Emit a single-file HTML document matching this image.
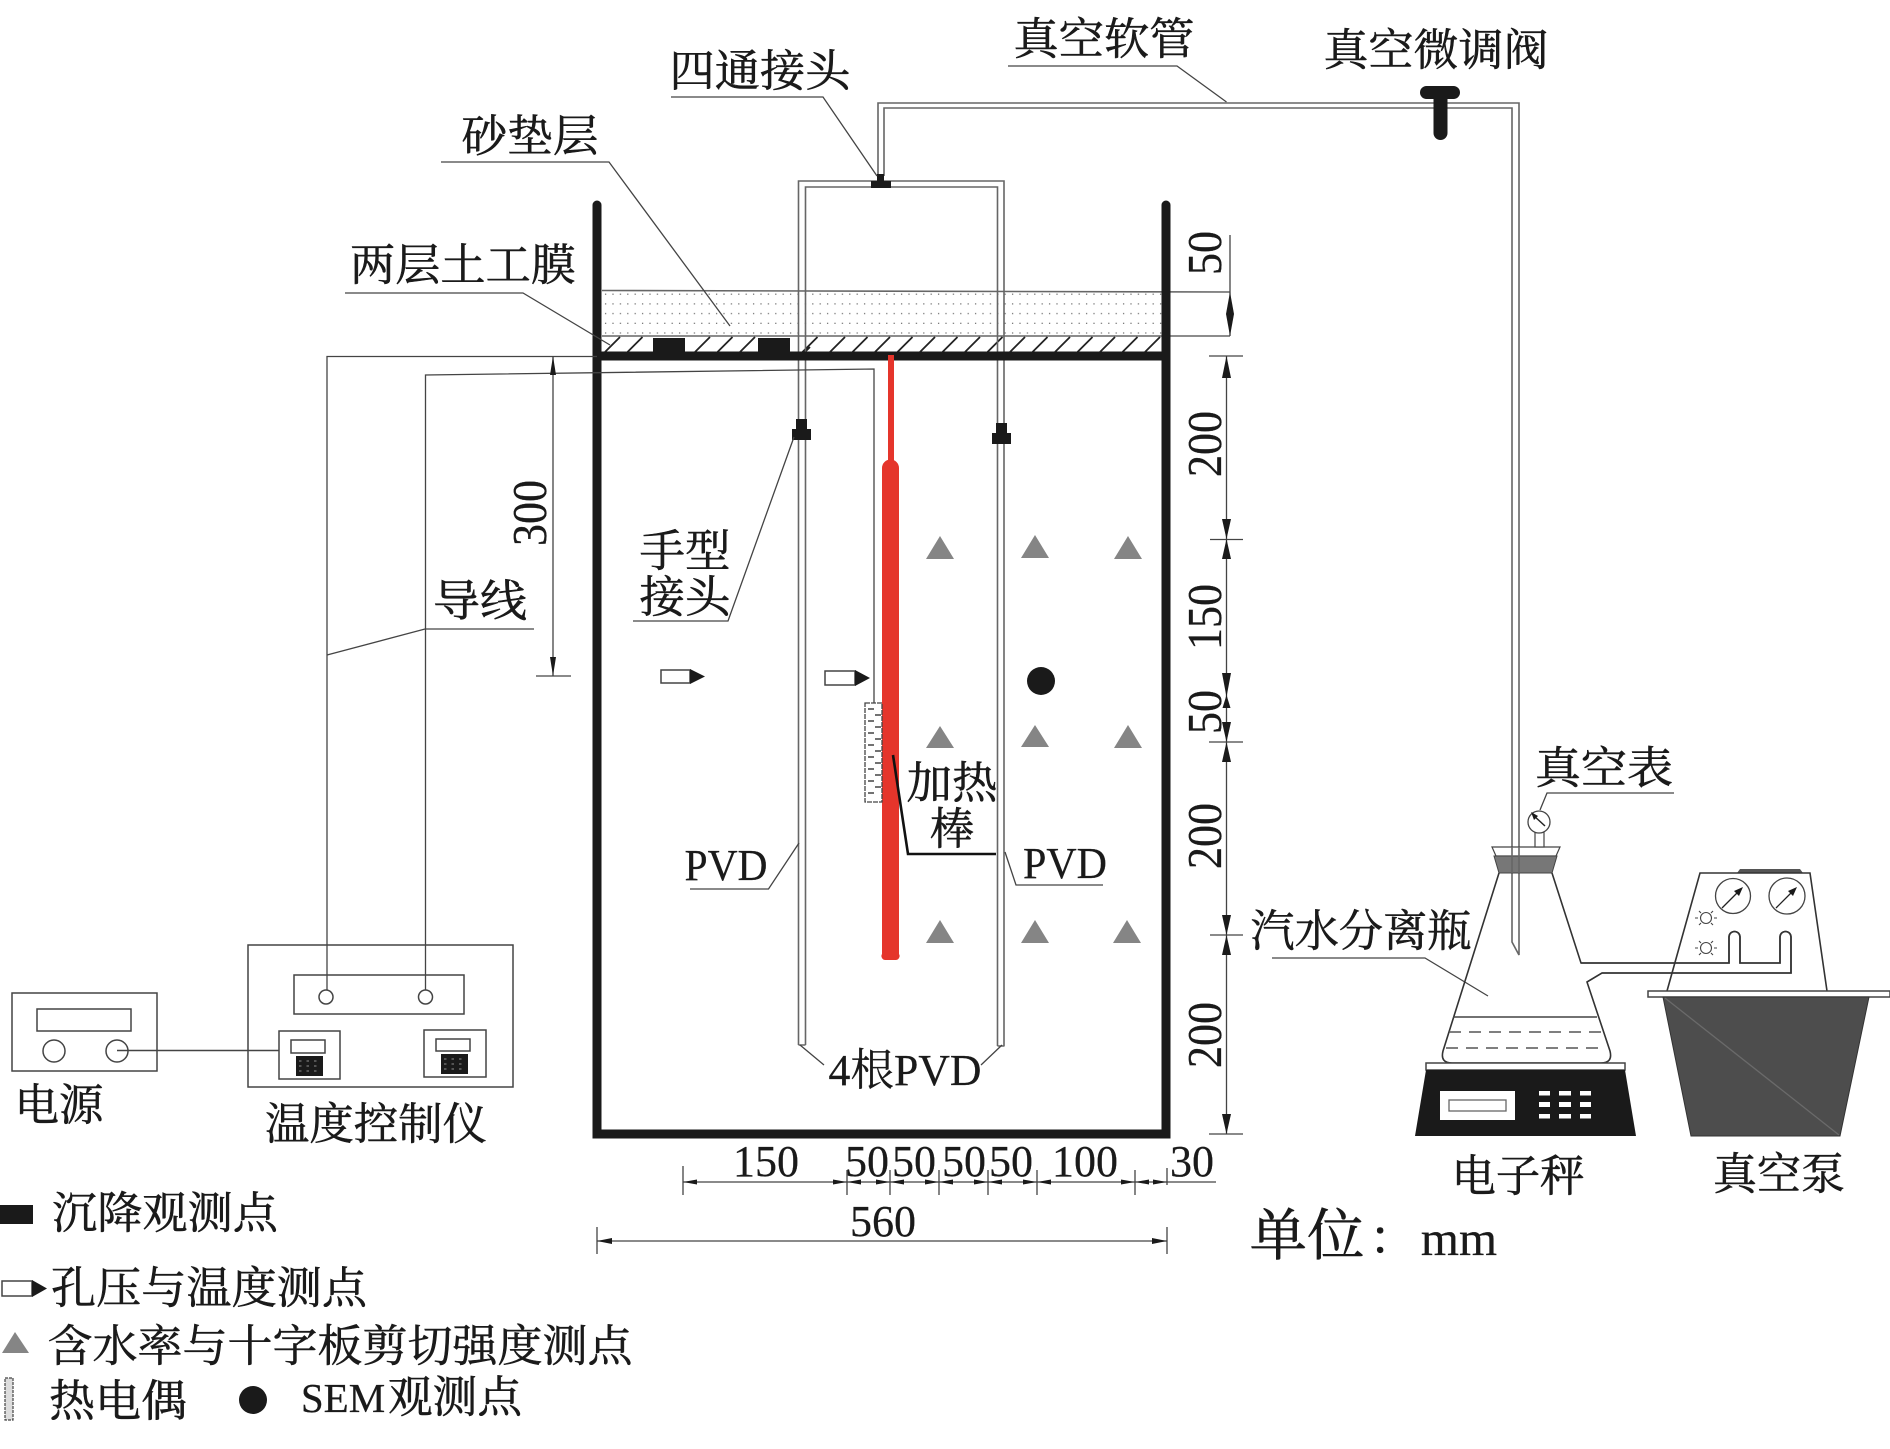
<!DOCTYPE html>
<html lang="zh"><head><meta charset="utf-8"><title>Test setup diagram</title>
<style>
html,body{margin:0;padding:0;background:#fff}
svg{display:block}
text{font-family:"Liberation Serif","Noto Serif CJK SC",serif;fill:#1a1a1a;text-anchor:middle}
.c{font-size:44px;stroke:#1a1a1a;stroke-width:.55px}
.n{font-size:44px;stroke:#1a1a1a;stroke-width:.25px}
.l{fill:none;stroke:#444;stroke-width:1.3}
.k{fill:none;stroke:#333;stroke-width:1.6}
.p{fill:none;stroke:#666;stroke-width:1.6}
.w{fill:#fff;stroke:#444;stroke-width:1.5}
.b{fill:#1a1a1a;stroke:none}
.g{fill:#858585;stroke:none}
</style></head><body>
<svg width="1890" height="1449" viewBox="0 0 1890 1449" xmlns="http://www.w3.org/2000/svg">
<defs>
<pattern id="sand" x="602" y="290" width="7.4" height="9.7" patternUnits="userSpaceOnUse"><rect x="3" y="3.6" width="1.2" height="1.2" fill="#666"/></pattern>
</defs>
<rect width="1890" height="1449" fill="#fff"/>

<!-- sand -->
<rect x="602" y="291" width="560" height="45" fill="url(#sand)"/>
<line x1="602" y1="290.5" x2="1230" y2="292" class="p"/>
<line x1="602" y1="336" x2="1230" y2="336" class="p"/>
<!-- hatch -->
<path fill="none" stroke="#222" stroke-width="1.8" d="M605 352l15-15M627.5 352l15-15M695 352l15-15M717.500 352l15-15M740 352l15-15M802.500 352l15-15M805 352l5-5M830 352l15-15M852.500 352l15-15M875 352l15-15M897.500 352l15-15M920 352l15-15M942.500 352l15-15M965 352l15-15M987.500 352l15-15M1010 352l15-15M1032.500 352l15-15M1055 352l15-15M1077.500 352l15-15M1100 352l15-15M1122.500 352l15-15M1145 352l15-15"/>
<rect class="b" x="653" y="338" width="32" height="15"/>
<rect class="b" x="758" y="338" width="32" height="15"/>

<!-- pipes -->
<path class="p" d="M798.500 1045V181H1004V1046M805.500 1045V187H997.500V1046M798.500 1045H805.500M997.500 1046H1004.500"/>
<path class="p" d="M878 176V103H1519V955L1512 942V108H884V176"/>
<path class="b" d="M877 174h7v7h7v7h-20v-7h6z"/>
<path class="b" d="M796 419h11v10h4v11h-19v-11h4z"/>
<path class="b" d="M996 423h11v10h4v11h-19v-11h4z"/>
<path class="b" d="M1420 92.500a6.500 6.500 0 0 1 6.500-6.500h27a6.500 6.500 0 0 1 0 13h-6v34a7 7 0 0 1-14 0v-34h-7a6.500 6.500 0 0 1-6.500-6.500z"/>

<!-- tank -->
<path fill="none" stroke="#1a1a1a" stroke-width="9" stroke-linecap="round" stroke-linejoin="miter" d="M597 205V1134H1166V205"/>
<line x1="597" y1="356" x2="1166" y2="356" stroke="#1a1a1a" stroke-width="9"/>

<!-- heater -->
<rect x="888" y="355" width="6" height="108" fill="#e5352b"/>
<path d="M882 468a8.500 8.500 0 0 1 17 0V954a4 4 0 0 1-4 6h-9a4 4 0 0 1-4-6z" fill="#e5352b"/>

<!-- wires -->
<path class="l" d="M597 356.500H327V990"/>
<path class="l" d="M425.500 990V375L874 369V703"/>
<!-- thermocouple -->
<rect x="865" y="703" width="17" height="99" fill="#fff" stroke="#444" stroke-width="1.300" stroke-dasharray="5 1"/>
<path stroke="#444" stroke-width="1.600" fill="none" d="M868 709h6M875 715h6M868 721h6M875 727h6M868 733h6M875 739h6M868 745h6M875 751h6M868 757h6M875 763h6M868 769h6M875 775h6M868 781h6M875 787h6M868 793h6"/>

<!-- pressure markers -->
<rect x="661" y="670" width="29" height="13" class="w"/>
<polygon class="b" points="690,669 705,676.500 690,684"/>
<rect x="825" y="671" width="30" height="14" class="w"/>
<polygon class="b" points="855,670 870,678 855,686"/>

<!-- triangles -->
<g class="g">
<polygon points="940,536 926,559 954,559"/><polygon points="1035,535 1021,558 1049,558"/><polygon points="1128,536 1114,559 1142,559"/>
<polygon points="940,726 926,748 954,748"/><polygon points="1035,725 1021,747 1049,747"/><polygon points="1128,725 1114,748 1142,748"/>
<polygon points="940,920 926,943 954,943"/><polygon points="1035,920 1021,943 1049,943"/><polygon points="1127,920 1113,943 1141,943"/>
</g>
<circle class="b" cx="1041" cy="681" r="14"/>

<!-- leaders -->
<path class="l" d="M671 97H823L877 176"/>
<path class="l" d="M441 162H609L730 326"/>
<path class="l" d="M345 293H523L610 345"/>
<path class="l" d="M534 629H425L327 655"/>
<path class="l" d="M633 621H728L794 437"/>
<path class="l" d="M690 889H768.500L799 843"/>
<path class="l" d="M1005 852L1016 885H1103"/>
<path class="l" d="M800 1045L824 1065M981 1065L1002 1045"/>
<path class="l" d="M1008 66H1177L1226.500 102"/>
<path class="l" d="M1272 958H1425L1488 996"/>
<path class="l" d="M1540 810L1547 793H1674"/>
<path d="M893 755L908 854H996" fill="none" stroke="#111" stroke-width="2.600"/>

<!-- dim 300 -->
<path class="l" d="M553 356V676M536 676H571"/>
<polygon class="b" points="553,356 550,375 556,375"/><polygon class="b" points="553,676 550,657 556,657"/>

<!-- right dims -->
<path class="l" d="M1230 235V336M1209 356H1243M1226.500 356V1134M1210 539.500H1243M1209 742H1243M1210 935H1243M1209 1134H1243"/>
<g class="b">
<polygon points="1230,292 1226,314 1234,314"/><polygon points="1230,336 1226,314 1234,314"/>
<polygon points="1226.500,356 1222,378 1231,378"/>
<polygon points="1226.500,539 1222,519 1231,519"/><polygon points="1226.500,539 1222,559 1231,559"/>
<polygon points="1226.500,697 1222,673 1231,673"/><polygon points="1226.500,695 1222.500,708 1230.500,708" />
<polygon points="1226.500,742 1222,722 1231,722"/><polygon points="1226.500,742 1222,762 1231,762"/>
<polygon points="1226.500,935 1222,915 1231,915"/><polygon points="1226.500,935 1222,955 1231,955"/>
<polygon points="1226.500,1134 1222,1114 1231,1114"/>
</g>

<!-- bottom dims -->
<path class="l" d="M683 1182H1216M683 1166V1195M847 1170V1195M890 1170V1195M939 1170V1195M988 1170V1195M1037 1170V1195M1135 1170V1195M1167 1168V1185"/>
<g class="b">
<polygon points="683,1182 697,1179.500 697,1184.500"/>
<polygon points="847,1182 833,1179.500 833,1184.500"/><polygon points="847,1182 861,1179.500 861,1184.500"/>
<polygon points="890,1182 876,1179.500 876,1184.500"/><polygon points="890,1182 904,1179.500 904,1184.500"/>
<polygon points="939,1182 925,1179.500 925,1184.500"/><polygon points="939,1182 953,1179.500 953,1184.500"/>
<polygon points="988,1182 974,1179.500 974,1184.500"/><polygon points="988,1182 1002,1179.500 1002,1184.500"/>
<polygon points="1037,1182 1023,1179.500 1023,1184.500"/><polygon points="1037,1182 1051,1179.500 1051,1184.500"/>
<polygon points="1135,1182 1121,1179.500 1121,1184.500"/><polygon points="1135,1182 1149,1179.500 1149,1184.500"/>
<polygon points="1167,1182 1153,1179.500 1153,1184.500"/>
</g>
<path class="l" d="M597 1241H1167M597 1227V1254M1167 1227V1254"/>
<polygon class="b" points="597,1241 612,1238 612,1244"/><polygon class="b" points="1167,1241 1152,1238 1152,1244"/>

<!-- power box -->
<rect x="12" y="993" width="145" height="78" class="w" fill="none"/>
<rect x="37" y="1009" width="94" height="22" class="w"/>
<circle cx="54" cy="1051" r="11" class="w"/><circle cx="117" cy="1051" r="11" class="w"/>
<!-- controller -->
<rect x="248" y="945" width="265" height="142" fill="none" stroke="#444" stroke-width="1.500"/>
<rect x="294" y="975" width="170" height="39" fill="none" stroke="#444" stroke-width="1.500"/>
<circle cx="326" cy="997" r="7" fill="none" stroke="#444" stroke-width="1.500"/><circle cx="425.500" cy="997" r="7" fill="none" stroke="#444" stroke-width="1.500"/>
<rect x="279" y="1031" width="61" height="48" class="w"/>
<rect x="291" y="1040" width="34" height="13" class="w"/>
<rect x="296" y="1056" width="27" height="20" class="b"/>
<rect x="424" y="1030" width="62" height="47" class="w"/>
<rect x="436" y="1039" width="34" height="12" class="w"/>
<rect x="441" y="1054" width="27" height="20" class="b"/>
<path stroke="#777" stroke-width="1.300" stroke-dasharray="2.500 5" fill="none" d="M299 1061h22M299 1066h22M299 1071h22M444 1059h22M444 1064h22M444 1069h22"/>
<line x1="117" y1="1050.500" x2="279" y2="1050.500" stroke="#444" stroke-width="1.500"/>

<!-- flask -->
<polygon points="1492,847 1560,847 1556,856 1496,856" fill="#fff" stroke="#444" stroke-width="1.200"/>
<polygon points="1494,856 1557,856 1552,873 1499,873" fill="#777" stroke="#444" stroke-width="1"/>
<path class="p" d="M1512 847V873M1519 847V873"/>
<path class="k" stroke-width="1.400" d="M1499 873L1443 1051Q1440 1063 1452 1063H1601Q1613 1063 1610 1051L1587 982L1602 973H1791V937A5.300 5.300 0 0 0 1780 937V963H1740V937A5.300 5.300 0 0 0 1729 937V963H1581L1552 873"/>
<line x1="1453" y1="1017" x2="1597" y2="1017" stroke="#444" stroke-width="1.400"/>
<line x1="1449" y1="1032" x2="1602" y2="1032" stroke="#555" stroke-width="1.400" stroke-dasharray="12 8"/>
<line x1="1446" y1="1048" x2="1606" y2="1048" stroke="#555" stroke-width="1.400" stroke-dasharray="12 8"/>
<!-- gauge -->
<rect x="1535" y="832" width="9" height="15" fill="#fff" stroke="#444" stroke-width="1.200"/>
<circle cx="1539" cy="822" r="11" fill="#fff" stroke="#444" stroke-width="1.300"/>
<path d="M1545 826L1533 815" stroke="#222" stroke-width="1.500"/>
<polygon class="b" points="1531,812 1538,816 1534,820"/>

<!-- scale -->
<rect x="1426" y="1063" width="199" height="7" class="w"/>
<polygon class="b" points="1426,1070 1625,1070 1636,1136 1415,1136"/>
<rect x="1440" y="1091" width="75" height="29" fill="#fff"/>
<rect x="1449" y="1100" width="57" height="11" fill="#fff" stroke="#666" stroke-width="1.300"/>
<g fill="#fff">
<rect x="1539" y="1091" width="11" height="4.500"/><rect x="1559" y="1091" width="12" height="4.500"/><rect x="1580" y="1091" width="11" height="4.500"/>
<rect x="1539" y="1102" width="11" height="5"/><rect x="1559" y="1102" width="12" height="5"/><rect x="1580" y="1102" width="11" height="5"/>
<rect x="1539" y="1114" width="11" height="4.500"/><rect x="1559" y="1114" width="12" height="4.500"/><rect x="1580" y="1114" width="11" height="4.500"/>
</g>

<!-- pump -->
<polygon points="1737,873 1740,869 1800,869 1803,873" fill="#555"/>
<path class="k" stroke-width="1.400" d="M1667 991L1700 873H1810L1827 991"/>
<circle cx="1733" cy="896" r="17.500" fill="#fff" stroke="#444" stroke-width="1.300"/>
<circle cx="1787" cy="896" r="18" fill="#fff" stroke="#444" stroke-width="1.300"/>
<path stroke="#222" stroke-width="1.300" d="M1722 908L1738 892M1776 908L1792 892"/>
<polygon class="b" points="1743,887 1734,891 1739,896"/><polygon class="b" points="1797,887 1788,891 1793,896"/>
<g fill="none" stroke="#444" stroke-width="1.100">
<circle cx="1706" cy="918" r="5.500"/><circle cx="1706" cy="948" r="5.500"/>
<path d="M1695 918h3M1714 918h3M1699 911l2 2M1713 911l-2 2M1699 925l2-2M1713 925l-2-2M1695 948h3M1714 948h3M1699 941l2 2M1713 941l-2 2M1699 955l2-2M1713 955l-2-2"/>
</g>
<path class="k" stroke-width="1.400" d="M1581 963H1729V937A5.500 5.500 0 0 1 1740 937V963H1780V937A5.500 5.500 0 0 1 1791 937V973H1602L1587 982"/>
<rect x="1648" y="991" width="242" height="6" class="w"/>
<polygon points="1663,997 1869,997 1840,1136 1691,1136" fill="#4d4d4d" stroke="#333" stroke-width="1"/>
<line x1="1665" y1="998" x2="1839" y2="1135" stroke="#6a6a6a" stroke-width="1.300"/>

<!-- chinese labels -->
<text class="c" x="760" y="86" textLength="181" lengthAdjust="spacingAndGlyphs">四通接头</text>
<text class="c" x="530" y="151" textLength="137" lengthAdjust="spacingAndGlyphs">砂垫层</text>
<text class="c" x="463" y="280" textLength="226" lengthAdjust="spacingAndGlyphs">两层土工膜</text>
<text class="c" x="1104" y="54" textLength="181" lengthAdjust="spacingAndGlyphs">真空软管</text>
<text class="c" x="1436" y="65" textLength="225" lengthAdjust="spacingAndGlyphs">真空微调阀</text>
<text class="c" x="480" y="616" textLength="94" lengthAdjust="spacingAndGlyphs">导线</text>
<text class="c" x="685" y="566" textLength="91" lengthAdjust="spacingAndGlyphs">手型</text>
<text class="c" x="685" y="612" textLength="91" lengthAdjust="spacingAndGlyphs">接头</text>
<text class="c" x="952" y="798" textLength="91" lengthAdjust="spacingAndGlyphs">加热</text>
<text class="c" x="952" y="844">棒</text>
<text class="c" x="1604" y="783" textLength="138" lengthAdjust="spacingAndGlyphs">真空表</text>
<text class="c" x="1361" y="946" textLength="221" lengthAdjust="spacingAndGlyphs">汽水分离瓶</text>
<text class="c" x="1518" y="1191" textLength="133" lengthAdjust="spacingAndGlyphs">电子秤</text>
<text class="c" x="1779" y="1189" textLength="132" lengthAdjust="spacingAndGlyphs">真空泵</text>
<text class="c" x="59" y="1120" textLength="89" lengthAdjust="spacingAndGlyphs">电源</text>
<text class="c" x="376" y="1139" textLength="222" lengthAdjust="spacingAndGlyphs">温度控制仪</text>
<text class="c" x="1307" y="1255" style="font-size:56px" textLength="115" lengthAdjust="spacingAndGlyphs">单位</text>
<text class="c" x="1393" y="1254" style="font-size:48px">：</text>
<text x="1459" y="1255" style="font-size:49px;stroke:#1a1a1a;stroke-width:.25px">mm</text>

<!-- legend -->
<rect class="b" x="0" y="1205" width="33" height="19"/>
<text class="c" x="165" y="1228" textLength="226" lengthAdjust="spacingAndGlyphs">沉降观测点</text>
<rect x="2" y="1281" width="30" height="15" class="w"/>
<polygon class="b" points="32,1280 47,1288.500 32,1297"/>
<text class="c" x="209" y="1303" textLength="316" lengthAdjust="spacingAndGlyphs">孔压与温度测点</text>
<polygon class="g" points="15,1332 2,1353 29,1353"/>
<text class="c" x="340" y="1361" textLength="585" lengthAdjust="spacingAndGlyphs">含水率与十字板剪切强度测点</text>
<rect x="5" y="1378" width="8" height="42" fill="#ddd" stroke="#444" stroke-width="1.200" stroke-dasharray="3 1"/>
<text class="c" x="118" y="1416" textLength="138" lengthAdjust="spacingAndGlyphs">热电偶</text>
<circle class="b" cx="253" cy="1400" r="14"/>
<text x="343" y="1412" style="font-size:41px;stroke:#1a1a1a;stroke-width:.25px">SEM</text>
<text class="c" x="455" y="1412" textLength="134" lengthAdjust="spacingAndGlyphs">观测点</text>

<!-- numeric labels -->
<text class="n" x="726" y="880" textLength="83" lengthAdjust="spacingAndGlyphs">PVD</text>
<text class="n" x="1065" y="878" textLength="84" lengthAdjust="spacingAndGlyphs">PVD</text>
<text class="n" x="905" y="1085" textLength="153" lengthAdjust="spacingAndGlyphs">4根PVD</text>
<text class="n" x="766" y="1176">150</text>
<text class="n" x="867" y="1176">50</text>
<text class="n" x="914" y="1176">50</text>
<text class="n" x="964" y="1176">50</text>
<text class="n" x="1011" y="1176">50</text>
<text class="n" x="1085" y="1176">100</text>
<text class="n" x="1192" y="1176">30</text>
<text class="n" x="883" y="1236">560</text>
<text class="n" transform="translate(546,513) rotate(-90) scale(1,1.1)">300</text>
<text class="n" transform="translate(1221,253) rotate(-90) scale(1,1.1)">50</text>
<text class="n" transform="translate(1221,444) rotate(-90) scale(1,1.1)">200</text>
<text class="n" transform="translate(1221,617) rotate(-90) scale(1,1.1)">150</text>
<text class="n" transform="translate(1221,712) rotate(-90) scale(1,1.1)">50</text>
<text class="n" transform="translate(1221,836) rotate(-90) scale(1,1.1)">200</text>
<text class="n" transform="translate(1221,1035) rotate(-90) scale(1,1.1)">200</text>
</svg>
</body></html>
